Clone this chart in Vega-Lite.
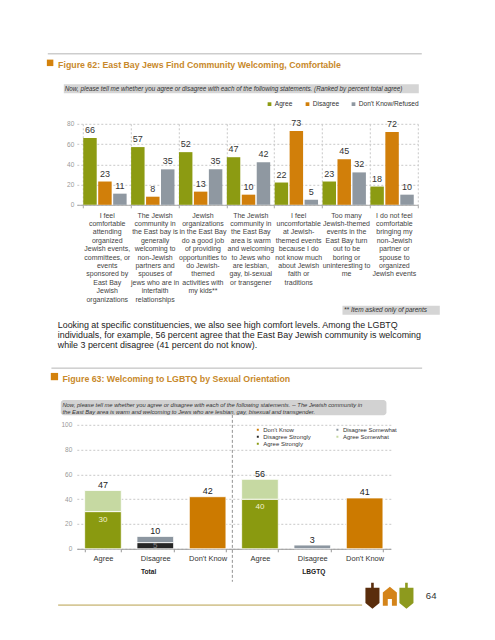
{
  "$schema": "https://vega.github.io/schema/vega-lite/v6.json",
  "background": "white",
  "padding": {"left": 46.8, "top": 52.8, "right": 0, "bottom": 0},
  "spacing": 16,
  "resolve": {"scale": {"color": "independent", "x": "independent", "y": "independent"}, "legend": {"color": "independent"}},
  "config": {"view": {"stroke": null}, "font": "Liberation Sans"},
  "vconcat": [
    {
      "width": 341,
      "height": 81,
      "data": {"values": [
        {"statement": "I feel|comfortable|attending|organized|Jewish events,|committees, or|events|sponsored by|East Bay|Jewish|organizations", "response": "Agree", "percent": 66},
        {"statement": "I feel|comfortable|attending|organized|Jewish events,|committees, or|events|sponsored by|East Bay|Jewish|organizations", "response": "Disagree", "percent": 23},
        {"statement": "I feel|comfortable|attending|organized|Jewish events,|committees, or|events|sponsored by|East Bay|Jewish|organizations", "response": "Don't Know/Refused", "percent": 11},
        {"statement": "The Jewish|community in|the East bay is|generally|welcoming to|non-Jewish|partners and|spouses of|jews who are in|interfaith|relationships", "response": "Agree", "percent": 57},
        {"statement": "The Jewish|community in|the East bay is|generally|welcoming to|non-Jewish|partners and|spouses of|jews who are in|interfaith|relationships", "response": "Disagree", "percent": 8},
        {"statement": "The Jewish|community in|the East bay is|generally|welcoming to|non-Jewish|partners and|spouses of|jews who are in|interfaith|relationships", "response": "Don't Know/Refused", "percent": 35},
        {"statement": "Jewish|organizations|in the East Bay|do a good job|of providing|opportunities to|do Jewish-|themed|activities with|my kids**", "response": "Agree", "percent": 52},
        {"statement": "Jewish|organizations|in the East Bay|do a good job|of providing|opportunities to|do Jewish-|themed|activities with|my kids**", "response": "Disagree", "percent": 13},
        {"statement": "Jewish|organizations|in the East Bay|do a good job|of providing|opportunities to|do Jewish-|themed|activities with|my kids**", "response": "Don't Know/Refused", "percent": 35},
        {"statement": "The Jewish|community in|the East Bay|area is warm|and welcoming|to Jews who|are lesbian,|gay, bi-sexual|or transgener", "response": "Agree", "percent": 47},
        {"statement": "The Jewish|community in|the East Bay|area is warm|and welcoming|to Jews who|are lesbian,|gay, bi-sexual|or transgener", "response": "Disagree", "percent": 10},
        {"statement": "The Jewish|community in|the East Bay|area is warm|and welcoming|to Jews who|are lesbian,|gay, bi-sexual|or transgener", "response": "Don't Know/Refused", "percent": 42},
        {"statement": "I feel|uncomfortable|at Jewish-|themed events|because I do|not know much|about Jewish|faith or|traditions", "response": "Agree", "percent": 22},
        {"statement": "I feel|uncomfortable|at Jewish-|themed events|because I do|not know much|about Jewish|faith or|traditions", "response": "Disagree", "percent": 73},
        {"statement": "I feel|uncomfortable|at Jewish-|themed events|because I do|not know much|about Jewish|faith or|traditions", "response": "Don't Know/Refused", "percent": 5},
        {"statement": "Too many|Jewish-themed|events in the|East Bay turn|out to be|boring or|uninteresting to|me", "response": "Agree", "percent": 23},
        {"statement": "Too many|Jewish-themed|events in the|East Bay turn|out to be|boring or|uninteresting to|me", "response": "Disagree", "percent": 45},
        {"statement": "Too many|Jewish-themed|events in the|East Bay turn|out to be|boring or|uninteresting to|me", "response": "Don't Know/Refused", "percent": 32},
        {"statement": "I do not feel|comfortable|bringing my|non-Jewish|partner or|spouse to|organized|Jewish events", "response": "Agree", "percent": 18},
        {"statement": "I do not feel|comfortable|bringing my|non-Jewish|partner or|spouse to|organized|Jewish events", "response": "Disagree", "percent": 72},
        {"statement": "I do not feel|comfortable|bringing my|non-Jewish|partner or|spouse to|organized|Jewish events", "response": "Don't Know/Refused", "percent": 10}
      ]},
      "layer": [
        {
          "mark": {"type": "bar"},
          "encoding": {
            "x": {
              "field": "statement", "type": "nominal",
              "scale": {
                "domain": [
                  "I feel|comfortable|attending|organized|Jewish events,|committees, or|events|sponsored by|East Bay|Jewish|organizations",
                  "The Jewish|community in|the East bay is|generally|welcoming to|non-Jewish|partners and|spouses of|jews who are in|interfaith|relationships",
                  "Jewish|organizations|in the East Bay|do a good job|of providing|opportunities to|do Jewish-|themed|activities with|my kids**",
                  "The Jewish|community in|the East Bay|area is warm|and welcoming|to Jews who|are lesbian,|gay, bi-sexual|or transgener",
                  "I feel|uncomfortable|at Jewish-|themed events|because I do|not know much|about Jewish|faith or|traditions",
                  "Too many|Jewish-themed|events in the|East Bay turn|out to be|boring or|uninteresting to|me",
                  "I do not feel|comfortable|bringing my|non-Jewish|partner or|spouse to|organized|Jewish events"
                ],
                "paddingInner": 0, "paddingOuter": 0.0627, "align": 1
              },
              "axis": {
                "title": null, "labelExpr": "split(datum.label, '|')", "labelAngle": 0,
                "labelFontSize": 7, "labelColor": "#444", "labelLineHeight": 8.4, "labelBaseline": "top",
                "labelPadding": 3.3, "labelOverlap": false, "labelBound": false,
                "tickBand": "extent", "ticks": true, "tickSize": 3, "tickColor": "#aaa",
                "domainColor": "#aaa", "grid": true, "gridDash": [2, 2], "gridColor": "#c8c8c8"
              }
            },
            "xOffset": {
              "field": "response", "type": "nominal",
              "sort": ["Agree", "Disagree", "Don't Know/Refused"],
              "scale": {"paddingInner": 0.1, "paddingOuter": 0.15, "align": 0.1}
            },
            "y": {
              "field": "percent", "type": "quantitative",
              "scale": {"domain": [0, 80]},
              "axis": {
                "title": null, "values": [0, 20, 40, 60, 80], "tickCount": 5, "labelFontSize": 6.5, "labelColor": "#999",
                "labelPadding": 3, "labelOverlap": false, "ticks": false, "domain": false, "grid": true,
                "gridDash": [2, 2], "gridColor": "#c8c8c8"
              }
            },
            "color": {
              "field": "response", "type": "nominal",
              "scale": {"domain": ["Agree", "Disagree", "Don't Know/Refused"], "range": ["#8c9b12", "#d17f0a", "#8f98a1"]},
              "legend": {
                "title": null, "orient": "none", "legendX": 189.4, "legendY": -23, "direction": "horizontal",
                "symbolType": "square", "symbolSize": 14, "labelFontSize": 6.6, "labelColor": "#333",
                "columnPadding": 11, "labelOffset": 2, "padding": 0
              }
            }
          }
        },
        {
          "mark": {"type": "text", "baseline": "bottom", "dy": -3, "fontSize": 9, "color": "#333"},
          "encoding": {
            "x": {"field": "statement", "type": "nominal"},
            "xOffset": {"field": "response", "type": "nominal", "sort": ["Agree", "Disagree", "Don't Know/Refused"]},
            "y": {"field": "percent", "type": "quantitative"},
            "text": {"field": "percent", "type": "quantitative"}
          }
        },
        {
          "data": {"values": [{}]},
          "mark": {"type": "rule", "color": "#b5b5b5", "strokeWidth": 1, "xOffset": -35, "x2Offset": 4},
          "encoding": {
            "x": {"datum": "I feel|comfortable|attending|organized|Jewish events,|committees, or|events|sponsored by|East Bay|Jewish|organizations", "bandPosition": 0},
            "x2": {"datum": "I do not feel|comfortable|bringing my|non-Jewish|partner or|spouse to|organized|Jewish events", "bandPosition": 1},
            "y": {"datum": 149.1}
          }
        },
        {
          "data": {"values": [{}]},
          "mark": {"type": "point", "shape": "square", "filled": true, "size": 42, "opacity": 1, "color": "#d4820c", "xOffset": -32.7},
          "encoding": {
            "x": {"datum": "I feel|comfortable|attending|organized|Jewish events,|committees, or|events|sponsored by|East Bay|Jewish|organizations", "bandPosition": 0},
            "y": {"datum": 140.2}
          }
        },
        {
          "data": {"values": [{}]},
          "mark": {"type": "text", "align": "left", "baseline": "middle", "fontWeight": "bold", "fontSize": 8.8, "color": "#c8892b", "xOffset": -24.7,
            "text": "Figure 62: East Bay Jews Find Community Welcoming, Comfortable"},
          "encoding": {
            "x": {"datum": "I feel|comfortable|attending|organized|Jewish events,|committees, or|events|sponsored by|East Bay|Jewish|organizations", "bandPosition": 0},
            "y": {"datum": 138.5}
          }
        },
        {
          "data": {"values": [{}]},
          "mark": {"type": "rect", "color": "#d5d5d5", "xOffset": -19, "x2Offset": 1},
          "encoding": {
            "x": {"datum": "I feel|comfortable|attending|organized|Jewish events,|committees, or|events|sponsored by|East Bay|Jewish|organizations", "bandPosition": 0},
            "x2": {"datum": "I do not feel|comfortable|bringing my|non-Jewish|partner or|spouse to|organized|Jewish events", "bandPosition": 1},
            "y": {"datum": 119},
            "y2": {"datum": 110.1}
          }
        },
        {
          "data": {"values": [{}]},
          "mark": {"type": "text", "align": "left", "baseline": "middle", "fontStyle": "italic", "fontSize": 6.3, "color": "#333", "xOffset": -18,
            "text": "Now, please tell me whether you agree or disagree with each of the following statements. (Ranked by percent total agree)"},
          "encoding": {
            "x": {"datum": "I feel|comfortable|attending|organized|Jewish events,|committees, or|events|sponsored by|East Bay|Jewish|organizations", "bandPosition": 0},
            "y": {"datum": 114.6}
          }
        },
        {
          "data": {"values": [{}]},
          "mark": {"type": "rect", "color": "#d5d5d5", "xOffset": 20.4, "x2Offset": 22},
          "encoding": {
            "x": {"datum": "Too many|Jewish-themed|events in the|East Bay turn|out to be|boring or|uninteresting to|me", "bandPosition": 0},
            "x2": {"datum": "I do not feel|comfortable|bringing my|non-Jewish|partner or|spouse to|organized|Jewish events", "bandPosition": 1},
            "y": {"datum": -99.8},
            "y2": {"datum": -108.6}
          }
        },
        {
          "data": {"values": [{}]},
          "mark": {"type": "text", "align": "left", "baseline": "middle", "fontStyle": "italic", "fontSize": 6.5, "color": "#333", "xOffset": 22,
            "text": "** Item asked only of parents"},
          "encoding": {
            "x": {"datum": "Too many|Jewish-themed|events in the|East Bay turn|out to be|boring or|uninteresting to|me", "bandPosition": 0},
            "y": {"datum": -104.2}
          }
        },
        {
          "data": {"values": [{}]},
          "mark": {"type": "text", "align": "left", "baseline": "top", "fontSize": 8.9, "lineHeight": 9.9, "color": "#222", "xOffset": -25, "lineBreak": "\n",
            "text": "Looking at specific constituencies, we also see high comfort levels.  Among the LGBTQ\nindividuals, for example, 56 percent agree that the East Bay Jewish community is welcoming\nwhile 3 percent disagree (41 percent do not know)."},
          "encoding": {
            "x": {"datum": "I feel|comfortable|attending|organized|Jewish events,|committees, or|events|sponsored by|East Bay|Jewish|organizations", "bandPosition": 0},
            "y": {"datum": -114.9}
          }
        }
      ]
    },
    {
      "width": 314,
      "height": 124,
      "data": {"values": [
        {"col": "Total|Agree", "segment": "Agree Strongly", "percent": 30},
        {"col": "Total|Agree", "segment": "Agree Somewhat", "percent": 17},
        {"col": "Total|Disagree", "segment": "Disagree Strongly", "percent": 5},
        {"col": "Total|Disagree", "segment": "Disagree Somewhat", "percent": 5},
        {"col": "Total|Don't Know", "segment": "Don’t Know", "percent": 42},
        {"col": "LBGTQ|Agree", "segment": "Agree Strongly", "percent": 40},
        {"col": "LBGTQ|Agree", "segment": "Agree Somewhat", "percent": 16},
        {"col": "LBGTQ|Disagree", "segment": "Disagree Somewhat", "percent": 3},
        {"col": "LBGTQ|Don't Know", "segment": "Don’t Know", "percent": 41}
      ]},
      "layer": [
        {
          "mark": {"type": "bar", "stroke": "white", "strokeWidth": 0.8},
          "encoding": {
            "x": {
              "field": "col", "type": "nominal",
              "scale": {"domain": ["Total|Agree", "Total|Disagree", "Total|Don't Know", "LBGTQ|Agree", "LBGTQ|Disagree", "LBGTQ|Don't Know"], "paddingInner": 0.3, "paddingOuter": 0.15},
              "axis": {
                "title": null, "labelExpr": "split(datum.label, '|')[1]", "labelAngle": 0,
                "labelFontSize": 7.5, "labelColor": "#333", "labelBaseline": "top", "labelPadding": 3.1,
                "tickBand": "extent", "ticks": true, "tickSize": 3, "tickColor": "#999", "domainColor": "#999", "grid": false
              }
            },
            "y": {
              "aggregate": "sum", "field": "percent", "type": "quantitative",
              "scale": {"domain": [0, 100]},
              "axis": {
                "title": null, "values": [0, 20, 40, 60, 80, 100], "tickCount": 6, "labelFontSize": 6.5, "labelColor": "#999",
                "labelPadding": 5, "labelOverlap": false, "ticks": false, "domain": false, "grid": true, "gridDash": [2, 2], "gridColor": "#c8c8c8"
              }
            },
            "color": {
              "field": "segment", "type": "nominal",
              "scale": {
                "domain": ["Don’t Know", "Disagree Somewhat", "Disagree Strongly", "Agree Somewhat", "Agree Strongly"],
                "range": ["#cc7a00", "#8c96a0", "#262626", "#c6d9a2", "#8a9a10"]
              },
              "legend": {
                "title": null, "orient": "none", "legendX": 178, "legendY": 2, "direction": "horizontal", "columns": 2,
                "symbolType": "square", "symbolSize": 12, "labelFontSize": 6, "labelColor": "#333", "clipHeight": 6,
                "labelOffset": 2.5, "rowPadding": 1, "columnPadding": 22.6, "padding": 0
              }
            },
            "order": {"field": "segment", "sort": "descending"}
          }
        },
        {
          "mark": {"type": "text", "baseline": "bottom", "dy": -0.5, "fontSize": 9, "color": "#222"},
          "encoding": {
            "x": {"field": "col", "type": "nominal"},
            "y": {"aggregate": "sum", "field": "percent", "type": "quantitative"},
            "text": {"aggregate": "sum", "field": "percent", "type": "quantitative"}
          }
        },
        {
          "transform": [{"filter": "datum.segment === 'Agree Strongly'"}],
          "mark": {"type": "text", "baseline": "middle", "dy": 8, "fontSize": 8, "color": "#f4f1cf"},
          "encoding": {
            "x": {"field": "col", "type": "nominal"},
            "y": {"field": "percent", "type": "quantitative"},
            "text": {"field": "percent", "type": "quantitative"}
          }
        },
        {
          "transform": [{"filter": "datum.segment === 'Disagree Strongly'"}],
          "mark": {"type": "text", "baseline": "middle", "dy": 3, "fontSize": 8, "color": "#888888"},
          "encoding": {
            "x": {"field": "col", "type": "nominal"},
            "y": {"field": "percent", "type": "quantitative"},
            "text": {"field": "percent", "type": "quantitative"}
          }
        },
        {
          "data": {"values": [{}]},
          "mark": {"type": "rule", "color": "#b5b5b5", "strokeWidth": 1, "xOffset": -33.2, "x2Offset": 39.2},
          "encoding": {
            "x": {"datum": "Total|Agree", "bandPosition": 0},
            "x2": {"datum": "LBGTQ|Don't Know", "bandPosition": 1},
            "y": {"datum": 145.7}
          }
        },
        {
          "data": {"values": [{}]},
          "mark": {"type": "point", "shape": "square", "filled": true, "size": 53, "opacity": 1, "color": "#d4820c", "xOffset": -30.2},
          "encoding": {
            "x": {"datum": "Total|Agree", "bandPosition": 0},
            "y": {"datum": 138.9}
          }
        },
        {
          "data": {"values": [{}]},
          "mark": {"type": "text", "align": "left", "baseline": "middle", "fontWeight": "bold", "fontSize": 8.8, "color": "#c8892b", "xOffset": -22.2,
            "text": "Figure 63: Welcoming to LGBTQ by Sexual Orientation"},
          "encoding": {
            "x": {"datum": "Total|Agree", "bandPosition": 0},
            "y": {"datum": 136.9}
          }
        },
        {
          "data": {"values": [{}]},
          "mark": {"type": "rect", "color": "#d2d2d2", "cornerRadius": 3, "xOffset": -23.85, "x2Offset": 3.5},
          "encoding": {
            "x": {"datum": "Total|Agree", "bandPosition": 0},
            "x2": {"datum": "LBGTQ|Don't Know", "bandPosition": 1},
            "y": {"datum": 119.9},
            "y2": {"datum": 107.8}
          }
        },
        {
          "data": {"values": [{}]},
          "mark": {"type": "text", "align": "left", "baseline": "top", "fontStyle": "italic", "fontSize": 5.8, "lineHeight": 7, "color": "#333", "xOffset": -22.2, "lineBreak": "\n",
            "text": "Now, please tell me whether you agree or disagree with each of the following statements.  -- The Jewish community in\nthe East Bay area is warm and welcoming to Jews who are lesbian, gay, bisexual and transgender."},
          "encoding": {
            "x": {"datum": "Total|Agree", "bandPosition": 0},
            "y": {"datum": 118.5}
          }
        },
        {
          "data": {"values": [{}]},
          "mark": {"type": "rule", "color": "#777", "strokeWidth": 0.8, "strokeDash": [3, 2], "xOffset": -9.3},
          "encoding": {
            "x": {"datum": "LBGTQ|Agree", "bandPosition": 0},
            "y": {"datum": 108},
            "y2": {"datum": -26.6}
          }
        },
        {
          "data": {"values": [{}]},
          "mark": {"type": "text", "baseline": "middle", "fontWeight": "bold", "fontSize": 6.6, "color": "#222", "dx": -6.7, "text": "Total"},
          "encoding": {
            "x": {"datum": "Total|Disagree"},
            "y": {"datum": -18.8}
          }
        },
        {
          "data": {"values": [{}]},
          "mark": {"type": "text", "baseline": "middle", "fontWeight": "bold", "fontSize": 6.6, "color": "#222", "dx": 1.5, "text": "LBGTQ"},
          "encoding": {
            "x": {"datum": "LBGTQ|Disagree"},
            "y": {"datum": -18.8}
          }
        },
        {
          "data": {"values": [{}]},
          "mark": {"type": "rule", "color": "#d6c898", "strokeWidth": 1.8, "xOffset": -26.5, "x2Offset": 15.8},
          "encoding": {
            "x": {"datum": "Total|Agree", "bandPosition": 0},
            "x2": {"datum": "LBGTQ|Don't Know", "bandPosition": 0},
            "y": {"datum": -45.4}
          }
        },
        {
          "data": {"values": [{}]},
          "mark": {"type": "text", "align": "left", "baseline": "middle", "fontSize": 9.6, "color": "#333", "xOffset": 42.9, "text": "64"},
          "encoding": {
            "x": {"datum": "LBGTQ|Don't Know", "bandPosition": 1},
            "y": {"datum": -37.9}
          }
        },
        {
          "data": {"values": [{}]},
          "mark": {"type": "point", "filled": true, "opacity": 1, "size": 676, "color": "#5a2d0c", "xOffset": -10.5,
            "shape": "M -0.1 -1 L 0.1 -1 L 0.1 -0.62 L 0.54 -0.62 L 0.54 0.55 L 0 1 L -0.54 0.55 L -0.54 -0.62 L -0.1 -0.62 Z"},
          "encoding": {
            "x": {"datum": "LBGTQ|Don't Know", "bandPosition": 1},
            "y": {"datum": -37.9}
          }
        },
        {
          "data": {"values": [{}]},
          "mark": {"type": "point", "filled": true, "opacity": 1, "size": 676, "color": "#d4841a", "xOffset": 6.9,
            "shape": "M 0 -0.73 L 0.54 -0.3 L 0.54 0.73 L 0.16 0.73 L 0.16 0.2 L -0.16 0.2 L -0.16 0.73 L -0.54 0.73 L -0.54 -0.3 Z"},
          "encoding": {
            "x": {"datum": "LBGTQ|Don't Know", "bandPosition": 1},
            "y": {"datum": -38.3}
          }
        },
        {
          "data": {"values": [{}]},
          "mark": {"type": "point", "filled": true, "opacity": 1, "size": 676, "color": "#8d9a1e", "xOffset": 23.5,
            "shape": "M -0.1 -1 L 0.1 -1 L 0.1 -0.62 L 0.54 -0.62 L 0.54 0.55 L 0 1 L -0.54 0.55 L -0.54 -0.62 L -0.1 -0.62 Z"},
          "encoding": {
            "x": {"datum": "LBGTQ|Don't Know", "bandPosition": 1},
            "y": {"datum": -37.9}
          }
        }
      ]
    }
  ]
}
